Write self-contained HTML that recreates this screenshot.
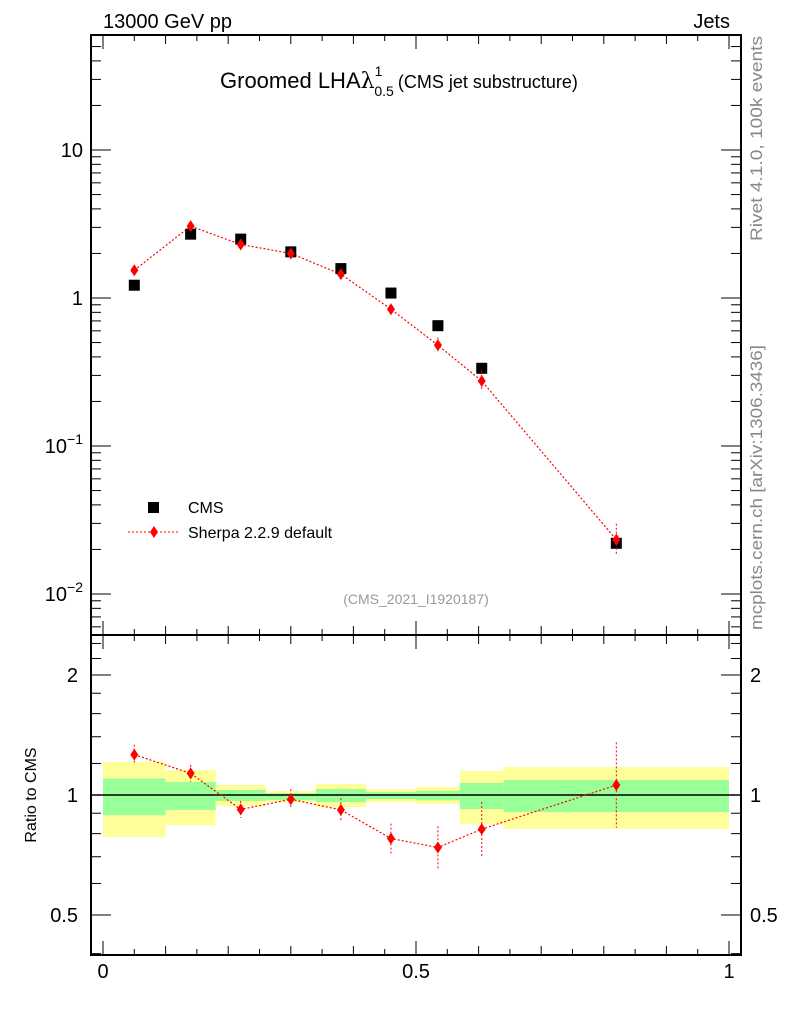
<!DOCTYPE html>
<html><head><meta charset="utf-8"><style>
body{margin:0;background:#fff;}
svg{display:block;font-family:"Liberation Sans",sans-serif;}
</style></head><body>
<svg id="c" width="786" height="1024" viewBox="0 0 786 1024" xmlns="http://www.w3.org/2000/svg">
<text x="103" y="28" font-size="20">13000 GeV pp</text>
<text x="730" y="28" font-size="20" text-anchor="end">Jets</text>
<text x="220" y="88" font-size="22">Groomed LHA<tspan font-family="DejaVu Serif,serif">λ</tspan><tspan font-size="14" dy="-12" dx="0">1</tspan><tspan font-size="14" dy="20" dx="-8">0.5</tspan><tspan font-size="18" dy="-8" dx="4">(CMS jet substructure)</tspan></text>
<text transform="translate(762,241) rotate(-90)" font-size="17" fill="#888" textLength="205" lengthAdjust="spacingAndGlyphs">Rivet 4.1.0,  100k events</text>
<text transform="translate(762,630) rotate(-90)" font-size="17" fill="#888" textLength="285" lengthAdjust="spacingAndGlyphs">mcplots.cern.ch [arXiv:1306.3436]</text>
<text x="416" y="604" font-size="14" fill="#999" text-anchor="middle">(CMS_2021_I1920187)</text>
<text transform="translate(36,795) rotate(-90)" font-size="16" text-anchor="middle">Ratio to CMS</text>
<g id="g"></g>
<rect x="91" y="35" width="650" height="600" fill="none" stroke="#000" stroke-width="2"/>
<rect x="91" y="635" width="650" height="320" fill="none" stroke="#000" stroke-width="2"/>
<rect x="148" y="502" width="11" height="11" fill="#000"/>
<text x="188" y="513" font-size="16">CMS</text>
<line x1="128" y1="532" x2="180" y2="532" stroke="red" stroke-dasharray="2,2"/>
<path d="M154,526 L158,532 L154,538 L150,532Z" fill="red"/>
<text x="188" y="538" font-size="16">Sherpa 2.2.9 default</text>
</svg>
<script>
const binEdges=[0,0.1,0.18,0.26,0.34,0.42,0.5,0.57,0.64,1.0];
const xCenters=[0.05,0.14,0.22,0.30,0.38,0.46,0.535,0.605,0.82];
const cmsValues=[1.22,2.7,2.5,2.05,1.58,1.08,0.65,0.335,0.022];
const sherpaValues=[1.54,3.06,2.3,2.0,1.45,0.84,0.48,0.275,0.0233];
const sherpaRelErr=[0.06,0.05,0.05,0.06,0.07,0.09,0.13,0.17,0.28];
const bandTotLo=[0.785,0.84,0.938,0.96,0.933,0.96,0.95,0.846,0.822];
const bandTotHi=[1.21,1.155,1.06,1.023,1.066,1.035,1.047,1.149,1.175];
const bandStatLo=[0.89,0.917,0.966,0.97,0.96,0.977,0.97,0.922,0.906];
const bandStatHi=[1.10,1.078,1.03,1.01,1.035,1.017,1.023,1.072,1.09];
const xTickLabels=["0","0.5","1"];
const yTickLabels=["10^-2","10^-1","1","10"];
const ratioTickLabels=["0.5","1","2"];

const NS="http://www.w3.org/2000/svg";
const g=document.getElementById('g');
const X=v=>103+v*626;
const Y=v=>298-Math.log10(v)*148;
const R=v=>795-Math.log2(v)*120;
function mk(t,a,p){const e=document.createElementNS(NS,t);for(const k in a)e.setAttribute(k,a[k]);(p||g).appendChild(e);return e;}

for(let i=0;i<cmsValues.length;i++){
  let e=mk('rect',{x:X(binEdges[i]),y:R(bandTotHi[i]),width:X(binEdges[i+1])-X(binEdges[i]),height:R(bandTotLo[i])-R(bandTotHi[i]),fill:'#ffff99'});
  
  
  e=mk('rect',{x:X(binEdges[i]),y:R(bandStatHi[i]),width:X(binEdges[i+1])-X(binEdges[i]),height:R(bandStatLo[i])-R(bandStatHi[i]),fill:'#99ff99'});
  
  
}
let ln=mk('line',{x1:91,x2:741,y1:R(1),y2:R(1),stroke:'#000','stroke-width':1.5});



for(let k=0;k<=20;k++){
  const v=k*0.05,x=X(v),len=(k%10==0)?14:(k%2==0?9:6);
  mk('line',{x1:x,x2:x,y1:955,y2:955-len,stroke:'#000'});
  mk('line',{x1:x,x2:x,y1:635,y2:635-len,stroke:'#000'});
  mk('line',{x1:x,x2:x,y1:635,y2:635+len,stroke:'#000'});
  mk('line',{x1:x,x2:x,y1:35,y2:35+len,stroke:'#000'});
}
xTickLabels.forEach((t,i)=>{const e=mk('text',{x:X(i*0.5),y:978,'font-size':20,'text-anchor':'middle'});e.textContent=t;
  
  });

for(let d=-3;d<=1;d++)for(let m=1;m<10;m++){
  const v=m*Math.pow(10,d),y=Y(v);if(y<36||y>634)continue;
  const len=m==1?20:10;
  mk('line',{x1:91,x2:91+len,y1:y,y2:y,stroke:'#000'});
  mk('line',{x1:741,x2:741-len,y1:y,y2:y,stroke:'#000'});
}
yTickLabels.forEach((t,i)=>{const v=Math.pow(10,i-2),y=Y(v)+7;
  const e=mk('text',{x:83,y:y,'font-size':20,'text-anchor':'end'});
  if(t.includes('^')){const [b,ex]=t.split('^');e.textContent=b;const s=mk('tspan',{dy:-9,'font-size':14},e);s.textContent=ex.replace('-','−');}
  else e.textContent=t;
  
  });

[0.4,0.5,0.6,0.7,0.8,0.9,1,1.2,1.4,1.6,1.8,2,2.2,2.4].forEach(v=>{const y=R(v);const len=[0.5,1,2].includes(v)?20:10;
  mk('line',{x1:91,x2:91+len,y1:y,y2:y,stroke:'#000'});mk('line',{x1:741,x2:741-len,y1:y,y2:y,stroke:'#000'});});
ratioTickLabels.forEach(t=>{const v=parseFloat(t),y=R(v)+7;
  let e=mk('text',{x:78,y:y,'font-size':20,'text-anchor':'end'});e.textContent=t;
  
  
  e=mk('text',{x:750,y:y,'font-size':20});e.textContent=t;
  
  });

let pts=xCenters.map((x,i)=>X(x)+','+Y(sherpaValues[i])).join(' ');
let pl=mk('polyline',{points:pts,fill:'none',stroke:'red','stroke-dasharray':'2,2','stroke-width':1.2});


const ratios=sherpaValues.map((v,i)=>v/cmsValues[i]);
pts=xCenters.map((x,i)=>X(x)+','+R(ratios[i])).join(' ');
pl=mk('polyline',{points:pts,fill:'none',stroke:'red','stroke-dasharray':'2,2','stroke-width':1.2});



function dia(x,y,name){const e=mk('path',{d:`M${x},${y-6}L${x+4},${y}L${x},${y+6}L${x-4},${y}Z`,fill:'red'});
  
  }
xCenters.forEach((xv,i)=>{
  const x=X(xv);
  const s=mk('rect',{x:x-5.5,y:Y(cmsValues[i])-5.5,width:11,height:11,fill:'#000'});
  
  
  const v=sherpaValues[i],er=sherpaRelErr[i];
  mk('line',{x1:x,x2:x,y1:Y(v*(1+er)),y2:Y(v/(1+er)),stroke:'red','stroke-dasharray':'2,2'});
  dia(x,Y(v),'sherpa-point');
  const r=ratios[i];
  mk('line',{x1:x,x2:x,y1:R(r*(1+er)),y2:R(r/(1+er)),stroke:'red','stroke-dasharray':'2,2'});
  dia(x,R(r),'ratio-point');
});
</script>
</body></html>
